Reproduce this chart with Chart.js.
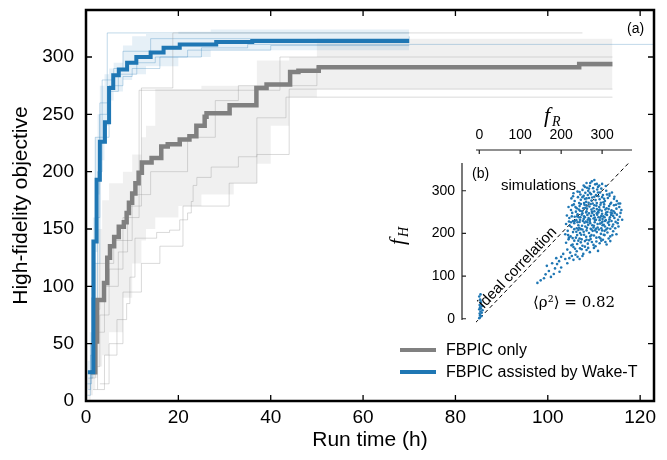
<!DOCTYPE html>
<html>
<head>
<meta charset="utf-8">
<script src="https://cdn.jsdelivr.net/npm/chart.js@4.4.1/dist/chart.umd.min.js"></script>
<style>
  body { margin: 0; background: #fff; }
  #wrap { position: relative; width: 667px; height: 460px; }
  #mainChart { position: absolute; left: 0; top: 0; }
  #insetChart { position: absolute; left: 380px; top: 95px; }
</style>
</head>
<body>
<div id="wrap">
  <canvas id="mainChart" width="667" height="460"></canvas>
  <canvas id="insetChart" width="260" height="235"></canvas>
</div>
<script>
// ---- main panel (a): best objective vs run time ----
const xTicks = [0, 20, 40, 60, 80, 100, 120];
const yTicks = [0, 50, 100, 150, 200, 250, 300];

// median curves
const blueT = [0.4, 1.6, 2.3, 3.0, 4.1, 5.0, 5.9, 7.1, 8.9, 10.9, 14.0, 16.8, 20.3, 28.2, 36.0, 70.0];
const blueY = [25, 139, 193, 226, 243, 273, 284, 289, 295, 300, 304, 308, 311, 313, 314, 314];
const grayT = [1.0, 2.0, 2.4, 3.9, 4.6, 5.2, 6.1, 7.1, 8.2, 8.8, 9.3, 10.0, 10.7, 11.4, 12.1, 14.2, 16.3, 17.7, 20.3, 22.4, 23.9, 25.7, 26.1, 31.1, 36.9, 39.1, 44.2, 46.0, 50.4, 106.8, 114.0];
const grayY = [25, 52, 88, 103, 125, 135, 143, 152, 156, 164, 173, 181, 190, 199, 208, 212, 222, 224, 228, 231, 240, 248, 251, 258, 273, 276, 287, 288, 291, 294, 294];

// spread bands
const grayBandT = [0.5, 1, 1.5, 2, 2.5, 3.5, 5, 8, 10, 12, 13, 15, 20, 25, 32, 37, 40, 44, 50, 114];
const grayBandHi = [20, 45, 80, 120, 150, 175, 190, 200, 215, 230, 240, 272, 272, 275, 275, 297, 297, 300, 316, 316];
const grayBandLo = [0, 5, 10, 20, 30, 40, 60, 90, 120, 140, 150, 160, 170, 180, 190, 207, 240, 265, 272, 272];
const blueBandT = [0.3, 0.8, 1.5, 2, 2.5, 3, 4, 5, 6, 8, 10, 13, 20, 27, 70];
const blueBandHi = [35, 60, 160, 230, 250, 275, 285, 290, 295, 310, 318, 320, 322, 324, 324];
const blueBandLo = [10, 20, 80, 130, 180, 210, 240, 262, 270, 280, 285, 292, 300, 306, 308];

// individual runs
const grayRunsT = [
  [2.5, 4.0, 6.7, 8.8, 9.5, 10.6, 15.3, 18.1, 20.3, 22.0, 22.8, 23.2, 24.0, 27.1, 33.0, 37.0, 43.3, 114],
  [1.5, 2.5, 4.0, 7.0, 9.0, 12.0, 18.8, 107.5],
  [1.0, 2.0, 3.0, 6.0, 10.0, 14.0, 22.0, 28.0, 33.0, 50.0, 114],
  [2.0, 3.0, 5.0, 8.0, 11.5, 42.0, 114],
  [3.0, 5.0, 8.0, 12.0, 16.0, 21.0, 31.0, 37.0, 44.0, 114]
];
const grayRunsY = [
  [10, 40, 71, 85, 108, 142, 147, 149, 158, 164, 174, 188, 195, 204, 213, 247, 265, 265],
  [10, 60, 100, 130, 170, 273, 321, 321],
  [20, 80, 120, 140, 180, 200, 230, 262, 275, 292, 292],
  [30, 75, 115, 160, 271, 300, 300],
  [15, 50, 95, 120, 135, 170, 190, 215, 272, 272]
];
const blueRunsT = [
  [0.5, 1.0, 2.0, 3.0, 4.6, 70],
  [0.5, 1.5, 3.0, 5.0, 8.0, 10.0, 16.0, 25.0, 35.0, 123],
  [0.3, 1.0, 2.5, 3.5, 6.0, 8.0, 14.0, 70],
  [0.3, 1.2, 2.0, 5.0, 7.0, 11.0, 15.0, 22.0, 40.0, 70]
];
const blueRunsY = [
  [10, 40, 160, 250, 321, 321],
  [20, 120, 260, 275, 283, 290, 300, 308, 311, 311],
  [5, 50, 200, 280, 290, 305, 316, 318],
  [15, 90, 230, 270, 285, 295, 300, 306, 310, 310]
];

// ---- inset panel (b): f_H vs f_R ----
const fRTicks = [0, 100, 200, 300];
const fHTicks = [0, 100, 200, 300];
const simPoints = [
  [262,318],[275,322],[283,315],[270,311],[290,309],[255,312],[281,325],[268,305],
  [240,298],[252,302],[259,295],[266,300],[273,292],[280,298],[288,303],[295,296],[302,290],[310,300],[247,291],[285,290],[263,307],[298,305],[318,293],[230,294],
  [225,282],[233,276],[241,285],[248,279],[255,288],[261,274],[268,283],[274,277],[281,286],[287,271],[294,280],[300,285],[307,276],[314,283],[322,272],[329,281],[336,276],[244,271],[258,281],[291,287],[303,273],[318,288],[265,290],[277,270],[340,270],[229,287],
  [218,262],[224,255],[231,268],[238,259],[245,264],[251,252],[257,267],[263,258],[269,263],[275,251],[281,266],[287,257],[293,262],[299,253],[305,268],[311,259],[317,264],[323,254],[329,266],[335,258],[342,262],[347,255],[236,251],[254,259],[272,269],[290,250],[308,256],[320,269],[248,269],[279,259],[262,252],[296,267],[313,250],[227,266],
  [214,242],[220,236],[227,248],[233,239],[240,245],[246,232],[252,247],[258,238],[264,243],[270,233],[276,248],[282,237],[288,244],[294,231],[300,246],[306,238],[312,243],[318,233],[324,247],[330,236],[336,244],[343,239],[349,232],[237,231],[255,234],[273,241],[291,249],[309,231],[327,241],[243,238],[261,249],[285,232],[303,240],[321,249],[339,232],[267,236],
  [212,222],[219,228],[225,215],[232,224],[238,212],[245,227],[251,218],[257,225],[263,213],[270,229],[276,219],[282,226],[289,214],[295,223],[301,228],[307,216],[314,225],[320,211],[327,221],[333,227],[340,216],[229,229],[248,210],[266,220],[285,211],[304,220],[323,229],[242,219],[260,228],[279,214],[298,212],[317,220],
  [210,198],[216,206],[223,193],[229,203],[236,190],[242,208],[249,197],[255,204],[261,192],[268,201],[274,209],[280,195],[287,203],[293,191],[300,207],[306,196],[313,202],[320,193],[327,205],[335,198],[219,190],[246,201],[271,193],[297,199],[252,209],[283,207],
  [212,178],[218,186],[225,172],[232,183],[239,175],[245,188],[252,171],[258,182],[265,176],[272,187],[279,173],[286,181],[294,177],[302,185],[311,174],[320,182],[228,189],[262,185],[248,179],
  [215,162],[222,155],[230,168],[238,158],[246,165],[254,152],[262,161],[270,156],[280,166],[290,159],[235,150],[258,169],
  [205,152],[200,145],[210,140],[195,135],[220,142],[190,128],[200,120],[185,118],[178,130],[170,112],[162,104],[175,98],[158,95],[150,90],[142,84],[165,124],[188,142],[230,138],[240,145],[215,130],[196,110],[182,105],[245,140],[252,147],[226,147],
  [1,3],[2,8],[1,12],[3,17],[0,22],[2,27],[1,32],[4,38],[2,45],[0,52],[3,57],[5,6],[6,14],[4,24],[7,30],[3,42],[0,1],[8,20],
  [235,262],[243,256],[250,244],[256,271],[262,266],[268,247],[274,256],[280,243],[286,265],[292,254],[298,241],[304,262],[310,249],[316,257],[322,243],[328,252],[334,267],
  [240,226],[247,238],[253,229],[259,216],[265,232],[271,224],[277,206],[283,231],[289,222],[295,237],[301,219],[307,229],[313,212],[319,238],[325,216],[331,248],
  [237,204],[244,213],[250,186],[256,197],[262,207],[268,184],[274,196],[280,218],[286,190],[292,209],[298,183],[304,197],[310,209],[316,188],
  [262,282],[270,295],[276,284],[284,278],[290,296],[297,272],[305,281],[312,291],[252,285],[245,297],[258,309],[278,306],[287,316],[293,312],[271,318],
  [226,240],[221,218],[217,196],[232,210],[239,196],[228,174],[234,164],[242,183],[250,163],[266,166],[275,180],[284,170],[296,188],[308,180],[325,196],
  [332,212],[338,224],[345,248],[344,270],[330,286],[324,296],[309,311],[300,316],[256,240],[264,226],[272,211],[279,235],[287,247],[294,256],[301,234],
  [309,245],[317,228],[246,253],[239,240],[233,229],[224,226],[259,260],[267,272],[281,252],[291,238],[299,225],[306,206]
];

const BLUE = '#1f77b4';
const GRAY = '#808080';
const sans = '"Liberation Sans", Arial, sans-serif';

const toXY = (t, y) => t.map((v, i) => ({ x: v, y: y[i] }));

const datasets = [
  { data: toXY(blueT, blueY), borderColor: BLUE, borderWidth: 4, order: 0 },
  { data: toXY(grayT, grayY), borderColor: GRAY, borderWidth: 4.5, order: 0 }
];
grayRunsT.forEach((t, i) => datasets.push({ data: toXY(t, grayRunsY[i]), borderColor: 'rgba(150,150,150,0.35)', borderWidth: 1, order: 1 }));
blueRunsT.forEach((t, i) => datasets.push({ data: toXY(t, blueRunsY[i]), borderColor: 'rgba(31,119,180,0.28)', borderWidth: 1, order: 1 }));
datasets.push({ data: toXY(grayBandT, grayBandHi), borderWidth: 0, borderColor: 'rgba(0,0,0,0)', backgroundColor: 'rgba(128,128,128,0.12)', fill: '+1', order: 2 });
datasets.push({ data: toXY(grayBandT, grayBandLo), borderWidth: 0, borderColor: 'rgba(0,0,0,0)', order: 2 });
datasets.push({ data: toXY(blueBandT, blueBandHi), borderWidth: 0, borderColor: 'rgba(0,0,0,0)', backgroundColor: 'rgba(31,119,180,0.11)', fill: '+1', order: 2 });
datasets.push({ data: toXY(blueBandT, blueBandLo), borderWidth: 0, borderColor: 'rgba(0,0,0,0)', order: 2 });
datasets.forEach(d => { d.stepped = 'before'; d.pointRadius = 0; if (d.fill === undefined) d.fill = false; });

const mainDeco = {
  id: 'mainDeco',
  afterDraw(chart) {
    const { ctx, chartArea: a, scales: { x, y } } = chart;
    ctx.save();
    ctx.strokeStyle = '#000';
    ctx.lineWidth = 1.3;
    ctx.beginPath();
    xTicks.forEach(v => {
      const px = x.getPixelForValue(v);
      ctx.moveTo(px, a.bottom); ctx.lineTo(px, a.bottom - 6);
      ctx.moveTo(px, a.top); ctx.lineTo(px, a.top + 6);
    });
    yTicks.forEach(v => {
      const py = y.getPixelForValue(v);
      ctx.moveTo(a.left, py); ctx.lineTo(a.left + 6, py);
      ctx.moveTo(a.right, py); ctx.lineTo(a.right - 6, py);
    });
    ctx.stroke();
    ctx.lineWidth = 2.5;
    ctx.strokeRect(a.left, a.top, a.right - a.left, a.bottom - a.top);

    // legend
    const items = [['FBPIC only', GRAY, 350], ['FBPIC assisted by Wake-T', BLUE, 372]];
    ctx.font = '16px ' + sans;
    ctx.textBaseline = 'middle';
    ctx.textAlign = 'left';
    items.forEach(([label, color, py]) => {
      ctx.strokeStyle = color;
      ctx.lineWidth = 4;
      ctx.beginPath(); ctx.moveTo(400, py); ctx.lineTo(436, py); ctx.stroke();
      ctx.fillStyle = '#000';
      ctx.fillText(label, 446, py + 1);
    });
    ctx.font = '14px ' + sans;
    ctx.fillText('(a)', 627, 29);
    ctx.restore();
  }
};

new Chart(document.getElementById('mainChart'), {
  type: 'line',
  data: { datasets },
  options: {
    responsive: false,
    animation: false,
    devicePixelRatio: 1,
    layout: { padding: { left: 0, right: 13, top: 10, bottom: 0 } },
    plugins: { legend: { display: false }, tooltip: { enabled: false } },
    scales: {
      x: {
        type: 'linear', min: 0, max: 123,
        afterFit: s => { s.height = 59; s.paddingLeft = 0; s.paddingRight = 0; },
        grid: { display: false, drawTicks: false },
        border: { display: false },
        ticks: { stepSize: 20, includeBounds: false, padding: 5, color: '#000', font: { size: 19, family: sans } },
        title: { display: true, text: 'Run time (h)', color: '#000', font: { size: 21, family: sans }, padding: { top: 0, bottom: 7 } }
      },
      y: {
        type: 'linear', min: 0, max: 341,
        afterFit: s => { s.width = 86; s.paddingTop = 0; s.paddingBottom = 0; },
        grid: { display: false, drawTicks: false },
        border: { display: false },
        ticks: { stepSize: 50, includeBounds: false, padding: 12, color: '#000', font: { size: 19, family: sans } },
        title: { display: true, text: 'High-fidelity objective', color: '#000', font: { size: 21, family: sans }, padding: { top: 9, bottom: 0 } }
      }
    }
  },
  plugins: [mainDeco]
});

// ---- inset ----
const insetDeco = {
  id: 'insetDeco',
  afterDraw(chart) {
    const { ctx, chartArea: a, scales: { x, y } } = chart;
    ctx.save();
    const spineY = a.top - 13;
    const spineX = a.left - 14;
    ctx.strokeStyle = '#222';
    ctx.lineWidth = 1.2;
    ctx.beginPath();
    ctx.moveTo(a.left, spineY); ctx.lineTo(a.right, spineY);
    ctx.moveTo(spineX, a.top); ctx.lineTo(spineX, a.bottom - 3);
    fRTicks.forEach(v => { const px = x.getPixelForValue(v); ctx.moveTo(px, spineY); ctx.lineTo(px, spineY + 4); });
    fHTicks.forEach(v => { const py = y.getPixelForValue(v); ctx.moveTo(spineX, py); ctx.lineTo(spineX + 4, py); });
    ctx.stroke();

    ctx.fillStyle = '#000';
    ctx.font = '14px ' + sans;
    ctx.textAlign = 'center';
    ctx.textBaseline = 'middle';
    fRTicks.forEach(v => ctx.fillText(String(v), x.getPixelForValue(v), spineY - 15));
    ctx.textAlign = 'right';
    fHTicks.forEach(v => ctx.fillText(String(v), spineX - 7, y.getPixelForValue(v)));

    // axis titles f_R and f_H
    const mathF = 'italic 22px "Liberation Serif", serif';
    const mathSub = 'italic 14px "Liberation Serif", serif';
    ctx.textAlign = 'left';
    ctx.textBaseline = 'alphabetic';
    ctx.font = mathF; ctx.fillText('f', 164, 27);
    ctx.font = mathSub; ctx.fillText('R', 172, 31);
    ctx.save();
    ctx.translate(24, 150);
    ctx.rotate(-Math.PI / 2);
    ctx.font = mathF; ctx.fillText('f', 0, 0);
    ctx.font = mathSub; ctx.fillText('H', 8, 4);
    ctx.restore();

    // annotations
    ctx.font = '14px ' + sans;
    ctx.textBaseline = 'middle';
    ctx.fillText('(b)', 92, 79);
    ctx.font = '15px ' + sans;
    ctx.fillText('simulations', 121, 91);
    ctx.font = '15px "DejaVu Serif", serif';
    ctx.fillText('\u27E8\u03C1\u00B2\u27E9 = 0.82', 153, 208);

    const px = x.getPixelForValue(107), py = y.getPixelForValue(107);
    const ang = Math.atan2(y.getPixelForValue(0) - y.getPixelForValue(100), x.getPixelForValue(100) - x.getPixelForValue(0));
    ctx.save();
    ctx.translate(px, py);
    ctx.rotate(-ang);
    ctx.font = '15px ' + sans;
    ctx.textAlign = 'center';
    ctx.textBaseline = 'bottom';
    ctx.fillText('ideal correlation', 0, 0);
    ctx.restore();
    ctx.restore();
  }
};

new Chart(document.getElementById('insetChart'), {
  type: 'scatter',
  data: {
    datasets: [
      {
        data: simPoints.map(p => ({ x: p[0], y: p[1] })),
        backgroundColor: BLUE, borderWidth: 0, pointRadius: 1.3
      },
      {
        type: 'line',
        data: [{ x: -10, y: -10 }, { x: 375, y: 375 }],
        borderColor: '#000', borderWidth: 1, borderDash: [4, 3], pointRadius: 0, fill: false
      }
    ]
  },
  options: {
    responsive: false,
    animation: false,
    devicePixelRatio: 1,
    layout: { padding: { left: 96, right: 8, top: 68, bottom: 7 } },
    plugins: { legend: { display: false }, tooltip: { enabled: false } },
    scales: {
      x: { type: 'linear', min: -8, max: 373, display: false },
      y: { type: 'linear', min: -10, max: 365, display: false }
    }
  },
  plugins: [insetDeco]
});
</script>
</body>
</html>
